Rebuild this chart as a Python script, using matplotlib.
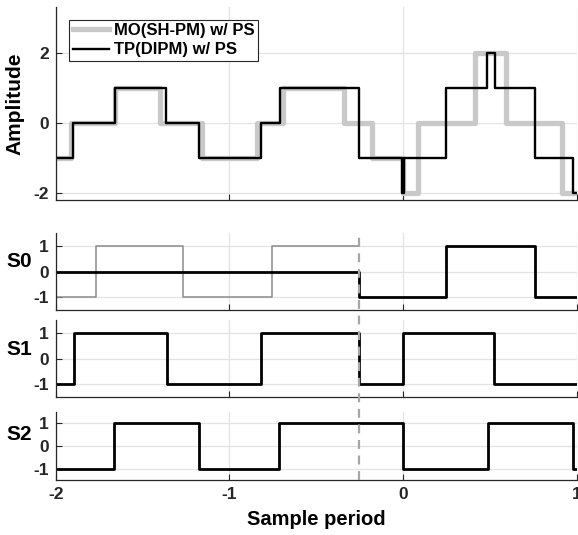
import matplotlib
matplotlib.use("Agg")

import matplotlib.pyplot as plt
from matplotlib.lines import Line2D
from matplotlib.transforms import blended_transform_factory

plt.rcParams["font.family"] = ["Liberation Sans", "DejaVu Sans"]
plt.rcParams["font.weight"] = "bold"
plt.rcParams["axes.unicode_minus"] = False

# amplitude panel: step edges (sample periods) and levels
mo_edges = [-2, -1.912, -1.66, -1.40, -1.16, -0.843, -0.69, -0.34, -0.181, 0.0, 0.088, 0.414, 0.592, 0.918, 1.0]
mo_levels = [-1, 0, 1, 0, -1, 0, 1, 0, -1, -2, 0, 2, 0, -2, -2]
tp_edges = [-2, -1.9, -1.659, -1.365, -1.173, -0.818, -0.709, -0.254, -0.008, 0.008, 0.25, 0.485, 0.529, 0.759, 0.976, 1.0]
tp_levels = [-1, 0, 1, 0, -1, 0, 1, -1, -2, -1, 1, 2, 1, -1, -2, -2]

# switch states
s0_ref_edges = [-2, -1.77, -1.265, -0.757, -0.252]
s0_ref_levels = [-1, 1, -1, 1, 1]
s0_edges = [-2, -0.252, 0.25, 0.759, 1.0]
s0_levels = [0, -1, 1, -1, -1]
s1_edges = [-2, -1.895, -1.361, -0.818, -0.252, 0.0, 0.525, 1.0]
s1_levels = [-1, 1, -1, 1, -1, 1, -1, -1]
s2_edges = [-2, -1.663, -1.175, -0.713, 0.0, 0.487, 0.976, 1.0]
s2_levels = [-1, 1, -1, 1, -1, 1, -1, -1]

switch_at = -0.252
x_ticks = [-2, -1, 0, 1]

SPINE = "#262626"
GRID = "#e3e3e3"
LIGHT = "#c9c9c9"

fig = plt.figure(figsize=(5.78, 5.35), dpi=100)
left, width = 0.0964, 0.9013
ax_a = fig.add_axes([left, 0.626, width, 0.361])
ax0 = fig.add_axes([left, 0.4206, width, 0.1434])
ax1 = fig.add_axes([left, 0.2574, width, 0.1446])
ax2 = fig.add_axes([left, 0.1028, width, 0.1277])


def style(ax, yticks):
    ax.set_xlim(-2, 1)
    ax.set_xticks(x_ticks)
    ax.set_yticks(yticks)
    ax.grid(True, color=GRID, lw=0.9)
    ax.set_axisbelow(True)
    for side in ("top", "right"):
        ax.spines[side].set_visible(False)
    for side in ("left", "bottom"):
        ax.spines[side].set_color(SPINE)
        ax.spines[side].set_linewidth(0.9)
    ax.tick_params(direction="in", length=4, width=0.8, color=SPINE,
                   labelcolor=SPINE, labelsize=12.5, pad=5)
    for lab in ax.get_xticklabels() + ax.get_yticklabels():
        lab.set_fontweight("bold")


ax_a.step(mo_edges, mo_levels, where="post", color=LIGHT, lw=3.8,
          label="MO(SH-PM) w/ PS")
ax_a.step(tp_edges, tp_levels, where="post", color="black", lw=1.7,
          label="TP(DIPM) w/ PS")
ax_a.set_ylim(-2.2, 3.3)
style(ax_a, [-2, 0, 2])
ax_a.tick_params(labelbottom=False)
ax_a.set_ylabel("Amplitude", fontsize=15, fontweight="bold")
ax_a.yaxis.set_label_coords(-0.059, 0.5)
leg = ax_a.legend(loc="upper left", bbox_to_anchor=(0.02, 0.95), fontsize=12,
                  handlelength=2.2, handletextpad=0.3, borderpad=0.2,
                  labelspacing=0.25, fancybox=False, framealpha=1,
                  borderaxespad=0.2)
leg.get_frame().set_edgecolor(SPINE)
leg.get_frame().set_linewidth(0.8)
for t in leg.get_texts():
    t.set_fontweight("bold")

ax0.step(s0_ref_edges, s0_ref_levels, where="post", color="#8c8c8c", lw=1.1)
ax0.step(s0_edges, s0_levels, where="post", color="black", lw=2.0)
ax1.step(s1_edges, s1_levels, where="post", color="black", lw=2.0)
ax2.step(s2_edges, s2_levels, where="post", color="black", lw=2.0)

for ax, name, ly in ((ax0, "S0", 0.63), (ax1, "S1", 0.62), (ax2, "S2", 0.66)):
    ax.set_ylim(-1.5, 1.5)
    style(ax, [-1, 0, 1])
    ax.set_ylabel(name, fontsize=15, fontweight="bold", rotation=0,
                  va="center", ha="center")
    ax.yaxis.set_label_coords(-0.07, ly)
ax0.tick_params(labelbottom=False)
ax1.tick_params(labelbottom=False)
ax2.set_xlabel("Sample period", fontsize=14.5, fontweight="bold", labelpad=6)

# dashed marker across the switch panels
tr = blended_transform_factory(ax2.transData, fig.transFigure)
y_lo = ax2.get_position().y0
y_hi = ax0.get_position().y1
fig.add_artist(Line2D([switch_at, switch_at], [y_lo, y_hi], transform=tr,
                      color="#a6a6a6", lw=1.6, ls=(0, (4, 3))))

fig.savefig("out.png", dpi=100)
